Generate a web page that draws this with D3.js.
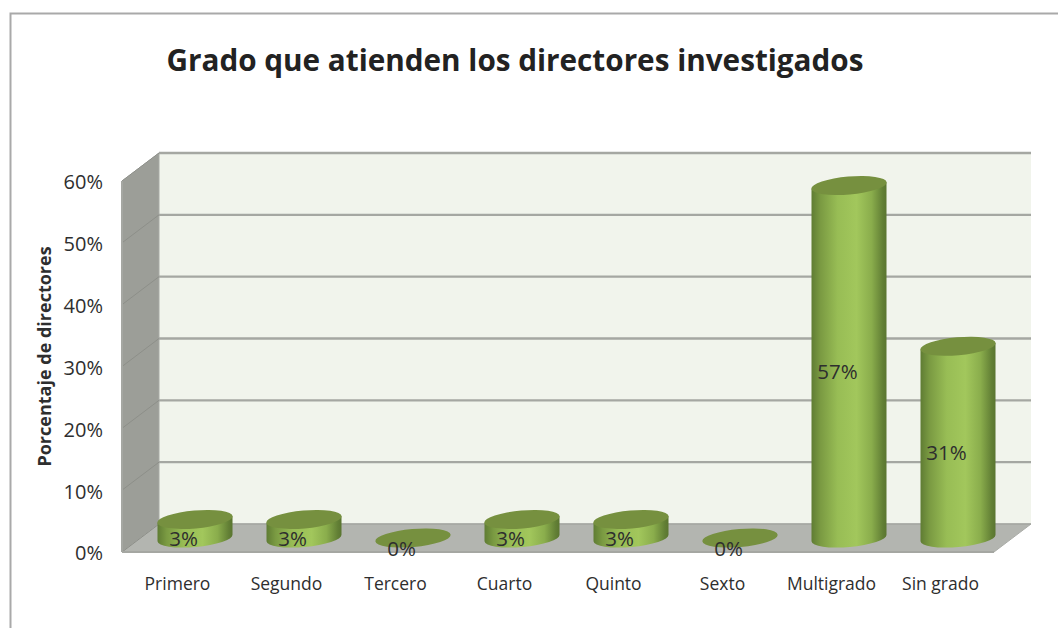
<!DOCTYPE html>
<html><head><meta charset="utf-8">
<script src="https://cdnjs.cloudflare.com/ajax/libs/d3/7.8.5/d3.min.js"></script>
<style>html,body{margin:0;padding:0;background:#fff}svg{display:block}text{font-family:"Open Sans",sans-serif;fill:#2e2e2e}</style>
</head><body><div id="c"></div>
<script>
const categories=["Primero","Segundo","Tercero","Cuarto","Quinto","Sexto","Multigrado","Sin grado"];
const values=[3,3,0,3,3,0,57,31];
const valueLabels=["3%","3%","0%","3%","3%","0%","57%","31%"];
const yTicks=[0,10,20,30,40,50,60];
const W=1058,H=628;
const depthX=37,depthY=-28;
const x=d3.scaleBand().domain(categories).range([122,994]);
const y=d3.scaleLinear().domain([0,60]).range([552,181]);
const svg=d3.select("#c").append("svg").attr("width",W).attr("height",H);
const defs=svg.append("defs");
const g=defs.append("linearGradient").attr("id","cyl");
[[0,"#5f7c33"],[0.12,"#7a9a42"],[0.35,"#98bd55"],[0.6,"#a2c75c"],[0.8,"#8aad4c"],[0.95,"#627f35"],[1,"#5a7530"]]
 .forEach(([o,c])=>g.append("stop").attr("offset",o).attr("stop-color",c));
// frame
svg.append("path").attr("d",`M10.5,${H}V13.5H${W}`).attr("fill","none").attr("stroke","#a9a9a9").attr("stroke-width",2);
const x0=x.range()[0],x1=x.range()[1],yb=y(0),yt=y(60);
// walls
svg.append("polygon").attr("fill","#f1f4ec").attr("points",[[x0+depthX,yt+depthY],[x1+depthX,yt+depthY],[x1+depthX,yb+depthY],[x0+depthX,yb+depthY]].join(" "));
svg.append("polygon").attr("fill","#9c9e98").attr("stroke","#a9aba6").attr("points",[[x0,yt],[x0+depthX,yt+depthY],[x0+depthX,yb+depthY],[x0,yb]].join(" "));
svg.append("polygon").attr("fill","#b3b5b0").attr("stroke","#a9aba6").attr("points",[[x0,yb],[x0+depthX,yb+depthY],[x1+depthX,yb+depthY],[x1,yb]].join(" "));
// gridlines
yTicks.forEach(t=>{
 const p=y(t);
 svg.append("line").attr("stroke","#8d8f89").attr("stroke-width",1)
  .attr("x1",x0).attr("y1",p).attr("x2",x0+depthX).attr("y2",p+depthY);
 svg.append("line").attr("stroke","#a5a7a2").attr("stroke-width",t===0?1.5:2.4)
  .attr("x1",x0+depthX).attr("y1",p+depthY).attr("x2",x1+depthX).attr("y2",p+depthY);
});
svg.append("line").attr("x1",x0).attr("x2",x0).attr("y1",yt).attr("y2",yb).attr("stroke","#a5a7a2").attr("stroke-width",2);
svg.append("line").attr("x1",x0).attr("x2",x1).attr("y1",yb).attr("y2",yb).attr("stroke","#a5a7a2").attr("stroke-width",2);
// axis labels
const axisG=svg.append("g").attr("transform",`translate(${x0-6},1.5)`).call(d3.axisLeft(y).tickValues(yTicks).tickSize(0).tickPadding(13).tickFormat(d=>d+"%"));
axisG.select(".domain").remove();
axisG.selectAll("text").style("font-size","20px").style("font-family",'"Open Sans",sans-serif').style("fill","#2e2e2e");
const xAxis=svg.append("g").attr("transform",`translate(0,578)`).call(d3.axisBottom(x).tickSize(0).tickPadding(0));
xAxis.select(".domain").remove();
xAxis.selectAll("text").style("font-size","17.5px").style("font-family",'"Open Sans",sans-serif').style("fill","#2e2e2e").attr("dx",1).attr("dy","0.71em").attr("y",0);
// bars
const rx=37.5,ry=9,tilt=-5,cx=d=>x(d)+x.bandwidth()/2+depthX/2,dy=14;
const by=v=>y(v)-dy;
categories.forEach((c,i)=>{
 const v=values[i],X=cx(c),top=by(v),bot=by(0);
 const a=rx*Math.sin(-tilt*Math.PI/180);
 if(v>0){
  svg.append("path").attr("fill","url(#cyl)")
   .attr("d",`M${X-rx},${top+a}L${X-rx},${bot+a}A${rx},${ry} ${tilt} 0 0 ${X+rx},${bot-a}L${X+rx},${top-a}Z`);
 }
 svg.append("ellipse").attr("cx",X).attr("cy",top).attr("rx",rx+0.3).attr("ry",ry).attr("fill","#76903f")
  .attr("transform",`rotate(${tilt} ${X} ${top})`);
});
// value labels
categories.forEach((c,i)=>{
 svg.append("text").attr("x",cx(c)-11.5).attr("y",by(values[i]/2)+10.5).attr("dy","0.35em").attr("text-anchor","middle").style("font-size","20.5px").text(valueLabels[i]);
});
// titles
svg.append("text").attr("x",515).attr("y",71).attr("text-anchor","middle").style("font-size","29.7px").style("font-weight","700").style("fill","#222").text("Grado que atienden los directores investigados");
svg.append("text").attr("transform","translate(50.5,356.5) rotate(-90)").attr("text-anchor","middle").style("font-size","18px").style("font-weight","700").text("Porcentaje de directores");
</script></body></html>
